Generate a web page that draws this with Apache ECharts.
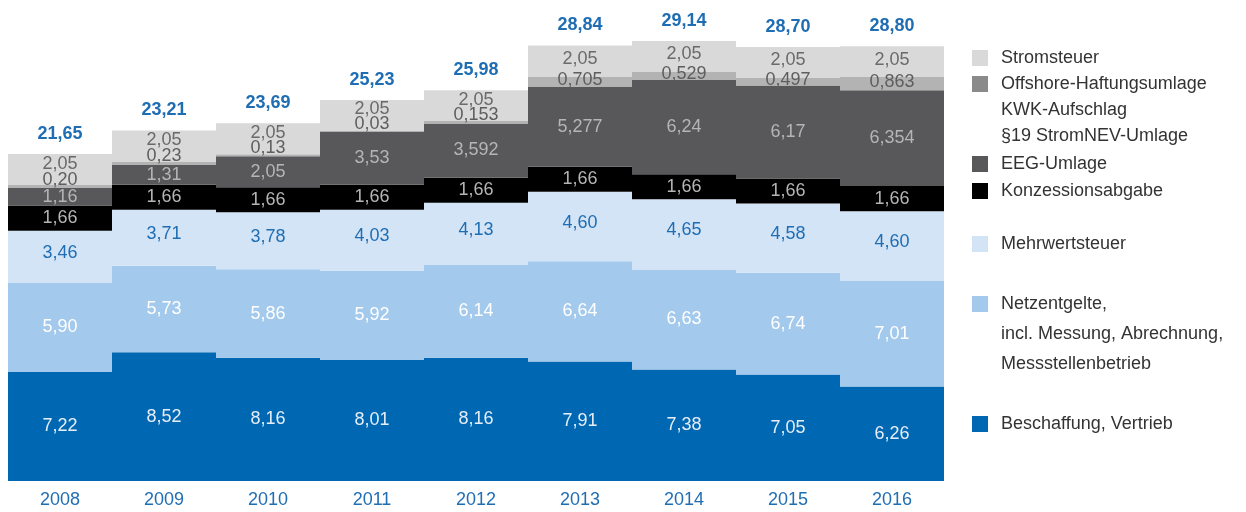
<!DOCTYPE html>
<html>
<head>
<meta charset="utf-8">
<script src="https://cdn.jsdelivr.net/npm/echarts@6/dist/echarts.min.js"></script>
<style>
	html, body { margin: 0; padding: 0; background: #fff; }
	#chart { width: 1246px; height: 512px; }
</style>
</head>
<body>
<div id="chart"></div>
<script>
let years = ["2008", "2009", "2010", "2011", "2012", "2013", "2014", "2015", "2016"];
let beschaffung = [7.22, 8.52, 8.16, 8.01, 8.16, 7.91, 7.38, 7.05, 6.26];
let netzentgelte = [5.90, 5.73, 5.86, 5.92, 6.14, 6.64, 6.63, 6.74, 7.01];
let mehrwertsteuer = [3.46, 3.71, 3.78, 4.03, 4.13, 4.60, 4.65, 4.58, 4.60];
let konzession = [1.66, 1.66, 1.66, 1.66, 1.66, 1.66, 1.66, 1.66, 1.66];
let eeg = [1.16, 1.31, 2.05, 3.53, 3.592, 5.277, 6.24, 6.17, 6.354];
let umlagen = [0.20, 0.23, 0.13, 0.03, 0.153, 0.705, 0.529, 0.497, 0.863];
let stromsteuer = [2.05, 2.05, 2.05, 2.05, 2.05, 2.05, 2.05, 2.05, 2.05];
let totals = ["21,65", "23,21", "23,69", "25,23", "25,98", "28,84", "29,14", "28,70", "28,80"];

const font = "Liberation Sans";

// Dezimalkomma, mindestens zwei Nachkommastellen
function fmt(v) {
	let s = String(v);
	let parts = s.split(".");
	let dec = parts[1] || "";
	while (dec.length < 2) dec += "0";
	return parts[0] + "," + dec;
}

function layer(name, data, color, labelColor, extra) {
	return Object.assign({
		name: name,
		type: "bar",
		stack: "total",
		barCategoryGap: "0%",
		barGap: "0%",
		itemStyle: { color: color },
		label: {
			show: true,
			position: "inside",
			color: labelColor,
			fontFamily: font,
			fontSize: 18,
			formatter: (p) => fmt(p.value)
		},
		data: data
	}, extra || {});
}

// kleine Umlagen: Label etwas nach oben verschoben
let umlagenData = umlagen.map((v) => ({
	value: v,
	label: { offset: [0, v < 0.3 ? -7 : -2] }
}));
let stromData = stromsteuer.map((v, i) => ({
	value: v,
	label: { offset: [0, umlagen[i] < 0.3 ? -6 : -2] }
}));

let myChart = echarts.init(document.getElementById("chart"));

function legendItem(name, top, swatch) {
	return {
		left: 972,
		top: top,
		padding: 0,
		orient: "vertical",
		selectedMode: false,
		itemWidth: 16,
		itemHeight: 16,
		icon: "rect",
		textStyle: {
			fontFamily: font,
			fontSize: 18,
			color: "#333",
			padding: [0, 0, 0, 8]
		},
		data: [{ name: name, itemStyle: swatch ? { color: swatch } : undefined }]
	};
}

function extraText(text, y) {
	return {
		type: "text",
		left: 1001,
		top: y - 9,
		style: { text: text, fill: "#333", font: "18px " + font }
	};
}

let option = {
	animation: false,
	grid: { left: 8, right: 302, top: 28, bottom: 31 },
	legend: [
		legendItem("Stromsteuer", 49),
		legendItem("Offshore-Haftungsumlage", 75, "#8a8a8a"),
		legendItem("EEG-Umlage", 155),
		legendItem("Konzessionsabgabe", 182),
		legendItem("Mehrwertsteuer", 235),
		legendItem("Netzentgelte,", 295),
		legendItem("Beschaffung, Vertrieb", 415)
	],
	graphic: [
		extraText("KWK-Aufschlag", 110),
		extraText("§19 StromNEV-Umlage", 136),
		extraText("incl. Messung, Abrechnung,", 334),
		extraText("Messstellenbetrieb", 364)
	],
	xAxis: {
		type: "category",
		data: years,
		axisLine: { show: false },
		axisTick: { show: false },
		axisLabel: {
			color: "#1f6db3",
			fontFamily: font,
			fontSize: 18,
			margin: 10
		}
	},
	yAxis: {
		type: "value",
		min: 0,
		max: 30,
		show: false,
		splitLine: { show: false }
	},
	series: [
		layer("Beschaffung, Vertrieb", beschaffung, "#0067b3", "#e6eef7"),
		layer("Netzentgelte,", netzentgelte, "#a3c9ec", "#ffffff"),
		layer("Mehrwertsteuer", mehrwertsteuer, "#d2e4f6", "#1f6db3", {
			label: {
				show: true, position: "inside", color: "#1f6db3", fontFamily: font, fontSize: 18,
				offset: [0, -4], formatter: (p) => fmt(p.value)
			}
		}),
		layer("Konzessionsabgabe", konzession, "#000000", "#b5b5b5"),
		layer("EEG-Umlage", eeg, "#58585a", "#b5b5b5"),
		layer("Offshore-Haftungsumlage", umlagenData, "#b3b3b3", "#5e5e5e", {
			label: {
				show: true, position: "inside", color: "#5e5e5e", fontFamily: font, fontSize: 18,
				formatter: (p) => fmt(p.value)
			}
		}),
		layer("Stromsteuer", stromData, "#d9d9d9", "#6a6a6a"),
		{
			name: "Summe",
			type: "bar",
			stack: "total",
			barCategoryGap: "0%",
			itemStyle: { color: "transparent" },
			label: {
				show: true,
				position: "top",
				distance: 11,
				color: "#1f6db3",
				fontFamily: font,
				fontSize: 18,
				fontWeight: "bold",
				formatter: (p) => totals[p.dataIndex]
			},
			data: years.map(() => 0)
		}
	]
};
myChart.setOption(option);
</script>
</body>
</html>
